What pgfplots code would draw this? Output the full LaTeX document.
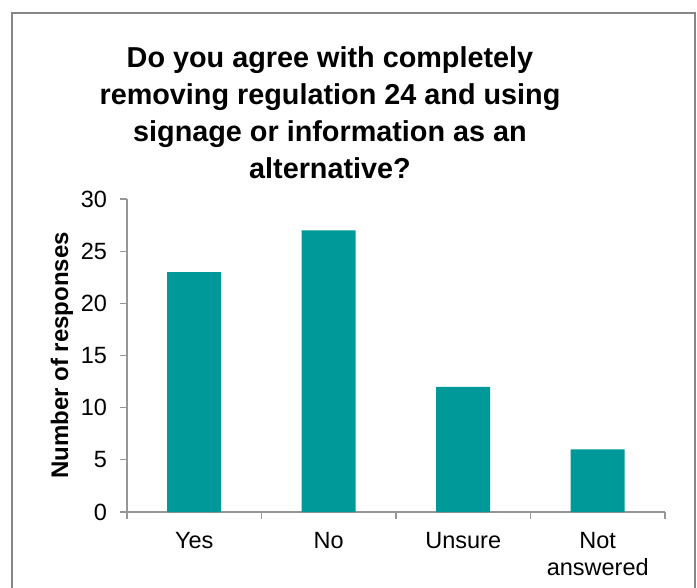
\documentclass[border=0pt]{standalone}
\usepackage{pgfplots}
\pgfplotsset{compat=1.18}
\usepackage{fontspec}
\setmainfont{Liberation Sans}
\definecolor{barteal}{RGB}{0,153,153}
\definecolor{axisgray}{RGB}{150,150,150}
\definecolor{framegray}{RGB}{134,134,134}
\begin{document}
\begin{tikzpicture}
\useasboundingbox (0,0) rectangle (697pt,-588pt);
\clip (0,0) rectangle (697pt,-588pt);
\fill[white] (0,0) rectangle (697pt,-588pt);
\draw[framegray, line width=2pt] (12pt,-13.5pt) rectangle (694.5pt,-620pt);
\begin{axis}[
  at={(127pt,-512pt)}, anchor=south west,
  scale only axis, width=538pt, height=313pt,
  xmin=-0.5, xmax=3.5, ymin=0, ymax=30,
  axis x line*=bottom, axis y line*=left,
  axis line style={draw=axisgray, line width=1.2pt, -},
  xtick={-0.5,0.5,1.5,2.5,3.5},
  x tick label as interval,
  xticklabels={Yes,No,Unsure,{Not\\answered}},
  ytick={0,5,10,15,20,25,30},
  tick align=outside,
  major tick length=6.5pt,
  tick style={draw=axisgray, line width=1.2pt},
  /pgf/number format/assume math mode=true,
  yticklabel style={font=\fontsize{23.5pt}{27pt}\selectfont, xshift=-10pt},
  xticklabel style={font=\fontsize{23.5pt}{27.5pt}\selectfont, align=center, yshift=-10pt},
  ylabel={Number of responses},
  ylabel style={font=\fontsize{24pt}{28pt}\selectfont\bfseries, at={(axis description cs:-0.1208,0.5)}, anchor=center},
  title={Do you agree with completely\\removing regulation 24 and using\\signage or information as an\\alternative?},
  title style={at={(axis description cs:0.3773,1.4687)}, anchor=north, inner sep=0pt, align=center, font=\fontsize{28.8pt}{37pt}\selectfont\bfseries},
]
\addplot[ybar, bar width=54pt, fill=barteal, draw=none] coordinates {(0,23) (1,27) (2,12) (3,6)};
\end{axis}
\end{tikzpicture}
\end{document}
